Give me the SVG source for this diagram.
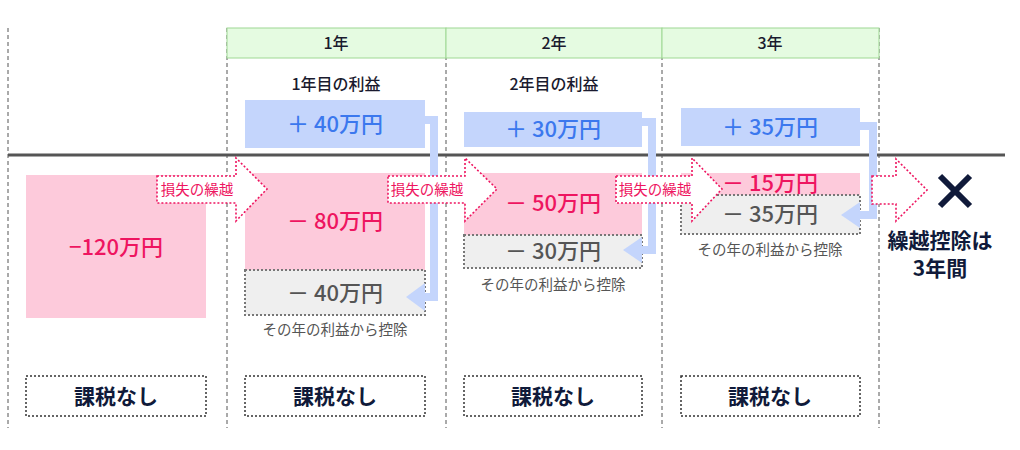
<svg xmlns="http://www.w3.org/2000/svg" width="1020" height="450" viewBox="0 0 1020 450">
<style>
text{font-family:"Noto Sans CJK JP","Noto Sans",sans-serif;text-anchor:middle}
.vl{stroke:#555;stroke-width:1;stroke-dasharray:4 3}
.hd{fill:#e5fbe1;stroke:#9ed893;stroke-width:1}
.hdt{font-size:16px;fill:#1a1a2e;font-weight:500}
.blue{fill:#c4d5fc}
.bt{font-size:22px;fill:#3b78ee;font-weight:500}
.pink{fill:#fdcadb}
.pt{font-size:22px;fill:#ee1560;font-weight:500}
.gray{fill:#efefef;stroke:#777;stroke-width:2;stroke-dasharray:2 2}
.gt{font-size:22px;fill:#555;font-weight:500}
.cap{font-size:14.5px;fill:#555}
.conn{fill:none;stroke:#c4d5fc;stroke-width:8}
.ah{fill:#c4d5fc}
.darr{fill:#fff;stroke:#ee1560;stroke-width:1.6;stroke-dasharray:2 2}
.at{font-size:14.5px;fill:#ee1560}
.tax{fill:#fff;stroke:#333;stroke-width:1.5;stroke-dasharray:2 2}
.tt{font-size:21px;fill:#101a3a;font-weight:bold}
</style>
<g id="grid">
<line class="vl" x1="8" y1="28" x2="8" y2="428"/>
<line class="vl" x1="227" y1="28" x2="227" y2="428"/>
<line class="vl" x1="446" y1="28" x2="446" y2="428"/>
<line class="vl" x1="662" y1="28" x2="662" y2="428"/>
<line class="vl" x1="879" y1="28" x2="879" y2="428"/>
<rect class="hd" x="227" y="28" width="219" height="30"/>
<rect class="hd" x="446" y="28" width="216" height="30"/>
<rect class="hd" x="662" y="28" width="217" height="30"/>
<text class="hdt" x="336" y="49">1年</text>
<text class="hdt" x="554" y="49">2年</text>
<text class="hdt" x="770" y="49">3年</text>
<line x1="8" y1="155" x2="1005" y2="155" stroke="#555" stroke-width="3"/>
</g>
<g id="col0">
<rect class="pink" x="26" y="175" width="180" height="143"/>
<text class="pt" x="116" y="255">−120万円</text>
</g>
<g id="col1">
<text class="hdt" x="336" y="90">1年目の利益</text>
<rect class="blue" x="245" y="100" width="180" height="48"/>
<text class="bt" x="335" y="132">＋ 40万円</text>
<rect class="pink" x="245" y="173" width="180" height="97"/>
<text class="pt" x="335" y="229">－ 80万円</text>
<rect class="gray" x="245" y="270" width="180" height="45"/>
<text class="gt" x="335" y="301">－ 40万円</text>
<text class="cap" x="335" y="335">その年の利益から控除</text>
</g>
<g id="col2">
<text class="hdt" x="554" y="90">2年目の利益</text>
<rect class="blue" x="464" y="112" width="178" height="35"/>
<text class="bt" x="553" y="137">＋ 30万円</text>
<rect class="pink" x="464" y="173" width="178" height="62"/>
<text class="pt" x="553" y="211">－ 50万円</text>
<rect class="gray" x="464" y="235" width="178" height="33"/>
<text class="gt" x="553" y="259">－ 30万円</text>
<text class="cap" x="553" y="290">その年の利益から控除</text>
</g>
<g id="col3">
<rect class="blue" x="681" y="108" width="179" height="38"/>
<text class="bt" x="770" y="135">＋ 35万円</text>
<rect class="pink" x="681" y="173" width="179" height="22"/>
<text class="pt" x="770" y="191">－ 15万円</text>
<rect class="gray" x="681" y="195" width="179" height="39"/>
<text class="gt" x="770" y="222">－ 35万円</text>
<text class="cap" x="770" y="255">その年の利益から控除</text>
</g>
<g id="connectors">
<polyline class="conn" points="425,120 434,120 434,297 425,297"/>
<polygon class="ah" points="406,297 425,283 425,311"/>
<polyline class="conn" points="642,122 652,122 652,250 642,250"/>
<polygon class="ah" points="623,250 642,237 642,263"/>
<polyline class="conn" points="860,126 873,126 873,215 860,215"/>
<polygon class="ah" points="841,215 860,202 860,228"/>
</g>
<g id="carry">
<polygon class="darr" points="157,176 236,176 236,158 267,189 236,221 236,203 157,203"/>
<text class="at" x="197" y="195">損失の繰越</text>
<polygon class="darr" points="388,176 465,176 465,158 497,189 465,221 465,203 388,203"/>
<text class="at" x="427" y="195">損失の繰越</text>
<polygon class="darr" points="616,176 692,176 692,158 722,189 692,221 692,203 616,203"/>
<text class="at" x="655" y="195">損失の繰越</text>
<polygon class="darr" points="872,176 896,176 896,159 927,190 896,221 896,204 872,204"/>
</g>
<g id="end">
<path d="M940,176 L970,206 M970,176 L940,206" stroke="#101a3a" stroke-width="6"/>
<text class="tt" x="940" y="248">繰越控除は</text>
<text class="tt" x="940" y="276">3年間</text>
</g>
<g id="tax">
<rect class="tax" x="26" y="376" width="180" height="40"/>
<text class="tt" x="116" y="404">課税なし</text>
<rect class="tax" x="245" y="376" width="180" height="40"/>
<text class="tt" x="335" y="404">課税なし</text>
<rect class="tax" x="464" y="376" width="178" height="40"/>
<text class="tt" x="553" y="404">課税なし</text>
<rect class="tax" x="681" y="376" width="179" height="40"/>
<text class="tt" x="770" y="404">課税なし</text>
</g>
</svg>
